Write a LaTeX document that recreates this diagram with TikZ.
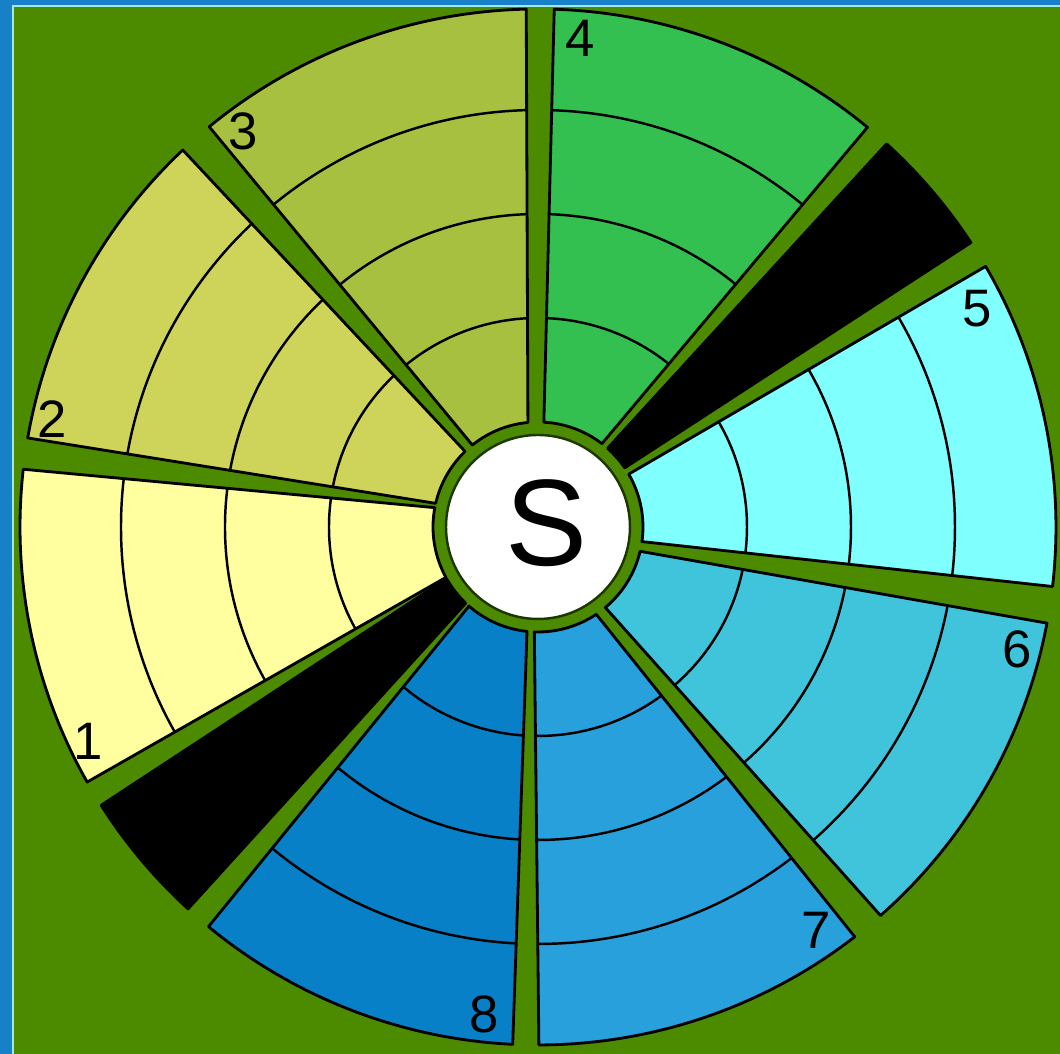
\documentclass[tikz,border=0pt]{standalone}
\usepackage{fontspec}
\setmainfont{Liberation Sans}

\definecolor{field}{RGB}{76,138,0}
\definecolor{frameblue}{RGB}{24,128,200}
\definecolor{framelight}{RGB}{160,232,240}
\definecolor{plotone}{RGB}{255,255,160}
\definecolor{plottwo}{RGB}{206,212,90}
\definecolor{plotthree}{RGB}{168,192,64}
\definecolor{plotfour}{RGB}{52,192,80}
\definecolor{plotfive}{RGB}{128,255,255}
\definecolor{plotsix}{RGB}{64,196,220}
\definecolor{plotseven}{RGB}{40,160,220}
\definecolor{ploteight}{RGB}{8,128,200}

% one plot: inner/outer angle of the first edge, then of the second edge
\newcommand{\plotshape}[4]{(#1:105) -- (#2:518) arc[start angle=#2, end angle=#4, radius=518] -- (#3:105) arc[start angle=#3, end angle=#1, radius=105] -- cycle}

\begin{document}
\begin{tikzpicture}[x=0.1mm,y=0.1mm,
  edge/.style={black,line width=0.8pt,line join=round},
  ring/.style={black,line width=0.7pt},
  plotnum/.style={font=\fontsize{15}{16}\selectfont,inner sep=0pt}]
\useasboundingbox (-538,-527) rectangle (522,527);
\fill[frameblue] (-538,-527) rectangle (522,527);
\fill[framelight] (-526,-527) rectangle (522,522);
\fill[field] (-524,-527) rectangle (522,520);

\foreach \ia/\oa/\ib/\ob/\col in {
    169.4/173.6/208.7/209.5/plotone,
    134/133.3/167/170.1/plottwo,
    95.5/91.3/128.7/129.4/plotthree,
    52.5/50.5/86.8/88.2/plotfour,
    -8/-6.6/30.2/30.2/plotfive,
    -50.1/-48.6/-13.4/-10.7/plotsix,
    -92/-89.9/-56.3/-52.3/plotseven,
    228.9/230.5/264/267.2/ploteight}{
  \begin{scope}
    \clip \plotshape{\ia}{\oa}{\ib}{\ob};
    \fill[\col] (0,0) circle[radius=530];
    \draw[ring] (0,0) circle[radius=209] (0,0) circle[radius=313] (0,0) circle[radius=417];
  \end{scope}
  \draw[edge] \plotshape{\ia}{\oa}{\ib}{\ob};
}
% the two black plots
\filldraw[edge,fill=black] \plotshape{34.3}{33.3}{48.5}{47.7};
\filldraw[edge,fill=black] \plotshape{209.5}{212.5}{226.5}{227.5};

\filldraw[fill=white,draw=black!60!field,line width=0.7pt] (0,0) circle[radius=92];
\node[font=\fontsize{35}{40}\selectfont] (centre) at (9,4) {S};

\node[plotnum] (num1) at (-450,-214) {1};
\node[plotnum] (num2) at (-486,108) {2};
\node[plotnum] (num3) at (-295,396) {3};
\node[plotnum] (num4) at (42,489) {4};
\node[plotnum] (num5) at (439,218) {5};
\node[plotnum] (num6) at (479,-122) {6};
\node[plotnum] (num7) at (278,-403) {7};
\node[plotnum] (num8) at (-54,-487) {8};
\end{tikzpicture}
\end{document}
